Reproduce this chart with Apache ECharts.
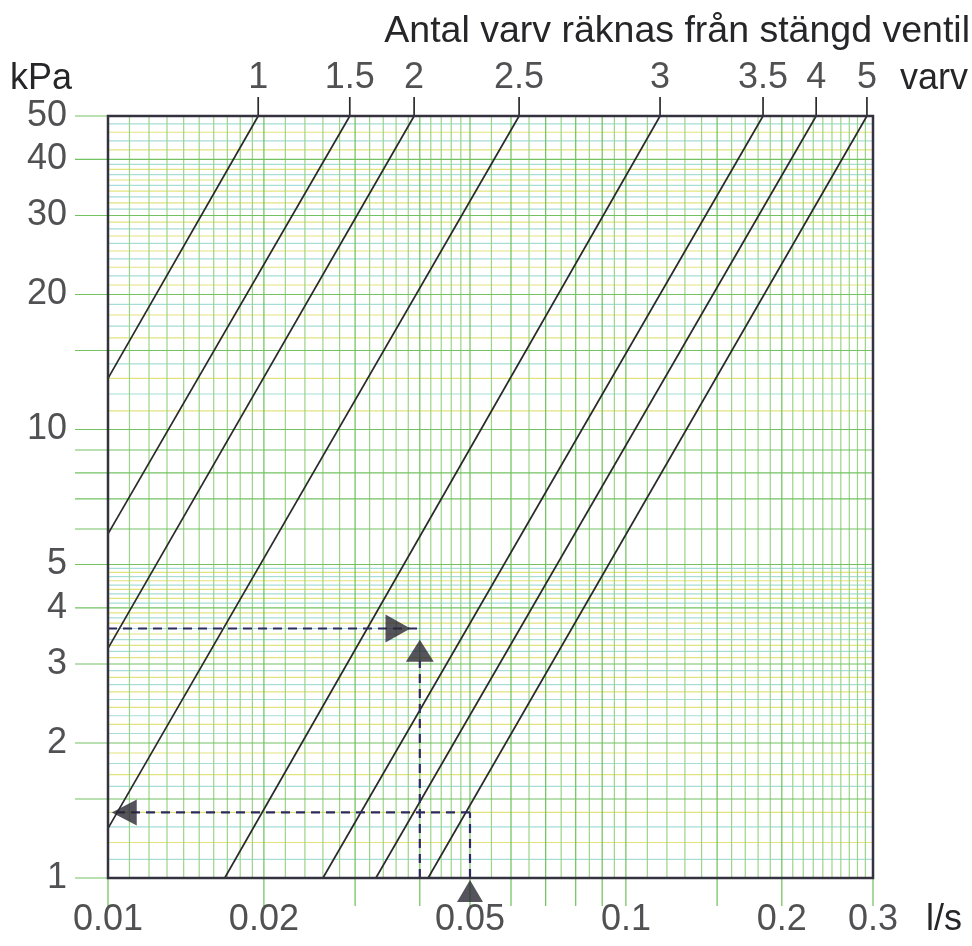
<!DOCTYPE html>
<html><head><meta charset="utf-8">
<script src="https://cdn.jsdelivr.net/npm/echarts@6/dist/echarts.min.js"></script>
<style>html,body{margin:0;padding:0;background:#fff}#c{width:972px;height:946px}</style>
</head><body><div id="c"></div>
<script>
// ---- data ----
const turnLabels = ['1','1.5','2','2.5','3','3.5','4','5'];
const flowAt50 = [0.0195,0.0293,0.0390,0.0622,0.1164,0.1840,0.2330,0.2920]; // l/s where each curve meets 50 kPa
const lowFlow  = [0.01,0.01,0.01,0.01,0.0168,0.0260,0.0329,0.0415];          // lower end of each curve
const lowP     = [13.0,5.85,3.25,1.29,1,1,1,1];

const xTickLabels = [0.01,0.02,0.05,0.1,0.2,0.3];
const yTickLabels = [1,2,3,4,5,10,20,30,40,50];

const xGridMajor = [0.01,0.02,0.03,0.04,0.05,0.06,0.07,0.08,0.09,0.1,0.15,0.2,0.3];
const xGridMinor = [0.011,0.012,0.013,0.014,0.015,0.016,0.017,0.018,0.019,
  0.022,0.024,0.026,0.028,0.032,0.034,0.036,0.038,0.042,0.044,0.046,0.048,
  0.055,0.065,0.075,0.085,0.095,
  0.11,0.12,0.13,0.14,0.16,0.17,0.18,0.19,
  0.21,0.22,0.23,0.24,0.25,0.26,0.27,0.28,0.29];
const yGridMajor = [1,1.5,2,3,4,5,6,7,8,9,10,15,20,30,40,50];
const yGridMinor = [1.1,1.2,1.3,1.4,1.6,1.7,1.8,1.9,
  2.1,2.2,2.3,2.4,2.5,2.6,2.7,2.8,2.9,
  3.1,3.2,3.3,3.4,3.5,3.6,3.7,3.8,3.9,
  4.1,4.2,4.3,4.4,4.5,4.6,4.7,4.8,4.9,
  11,12,13,14,16,17,18,19,
  21,22,23,24,25,26,27,28,29,
  31,32,33,34,35,36,37,38,39,
  42,44,46,48];

// worked examples (dashed reading lines)
const exA_horiz = [[0.01,3.6],[0.0405,3.6]];
const exA_vert  = [[0.04,1],[0.04,3.05]];
const exB_vert  = [[0.05,1],[0.05,1.4]];
const exB_horiz = [[0.05,1.4],[0.0102,1.4]];
const arrowRight = [[0.0363,3.6]];
const arrowUpA   = [[0.04,3.21]];
const arrowLeft  = [[0.01075,1.4]];
const arrowUpB   = [[0.05,0.936]];

const X_MIN = 0.01, X_MAX = 0.3, Y_MIN = 1, Y_MAX = 50;
const FONT = '"Liberation Sans", Arial, Helvetica, sans-serif';
const TXT = '#262628';
const FS = 36;

const chart = echarts.init(document.getElementById('c'));

function hLines(vals, colorFn, extLeft) {
  return {
    type: 'custom', coordinateSystem: 'cartesian2d', clip: false, silent: true, z: 1,
    data: vals.map(v => [X_MIN, v]),
    renderItem(params, api) {
      const v = api.value(1);
      const a = api.coord([X_MIN, v]), b = api.coord([X_MAX, v]);
      return { type: 'line', shape: { x1: a[0] - extLeft, y1: a[1], x2: b[0], y2: b[1] },
        style: { stroke: colorFn(params.dataIndex, v), lineWidth: 1.2 } };
    }
  };
}
function vLines(vals, color, extBottom) {
  return {
    type: 'custom', coordinateSystem: 'cartesian2d', clip: false, silent: true, z: 1,
    data: vals.map(v => [v, Y_MIN]),
    renderItem(params, api) {
      const v = api.value(0);
      const a = api.coord([v, Y_MIN]), b = api.coord([v, Y_MAX]);
      return { type: 'line', shape: { x1: a[0], y1: a[1] + extBottom, x2: b[0], y2: b[1] },
        style: { stroke: color, lineWidth: 1.2 } };
    }
  };
}
function dashed(data) {
  return { type: 'line', data, symbol: 'none', clip: false, silent: true, z: 5,
    lineStyle: { color: '#2d2b5e', width: 2.2, type: [9, 6] } };
}
function arrow(data, rot, size) {
  return { type: 'scatter', data, symbol: 'triangle', symbolSize: size, symbolRotate: rot,
    clip: false, silent: true, z: 6, itemStyle: { color: '#2a2832' } };
}

const series = [];
series.push(hLines(yGridMinor, (i) => (i % 2 ? '#e3e37e' : '#a6ddd8'), 0));
series.push(vLines(xGridMinor, '#9bd487', 0));
series.push(vLines(xGridMajor, '#6cc058', 28));
series.push(hLines(yGridMajor, () => '#72c262', 33));

turnLabels.forEach((t, i) => {
  series.push({ type: 'line', name: t, data: [[lowFlow[i], lowP[i]], [flowAt50[i], Y_MAX]],
    symbol: 'none', silent: true, z: 4, lineStyle: { color: '#2a2a2a', width: 1.7 } });
});
// short leader ticks above frame
series.push({
  type: 'custom', coordinateSystem: 'cartesian2d', clip: false, silent: true, z: 4,
  data: flowAt50.map(q => [q, Y_MAX]),
  renderItem(params, api) {
    const a = api.coord([api.value(0), Y_MAX]);
    return { type: 'line', shape: { x1: a[0], y1: a[1], x2: a[0], y2: a[1] - 19 },
      style: { stroke: '#2a2a2a', lineWidth: 1.7 } };
  }
});
// top turn labels
series.push({ type: 'scatter', symbolSize: 0, silent: true, clip: false,
  data: flowAt50.map((q, i) => ({ value: [q, Y_MAX], name: turnLabels[i] })),
  label: { show: true, position: 'top', distance: 20, formatter: '{b}',
    fontSize: FS, fontFamily: FONT, color: TXT } });
// y labels
series.push({ type: 'scatter', symbolSize: 0, silent: true, clip: false,
  data: yTickLabels.map(v => [X_MIN, v]),
  label: { show: true, position: 'left', distance: 41, formatter: p => String(p.value[1]),
    fontSize: FS, fontFamily: FONT, color: TXT } });
// x labels
series.push({ type: 'scatter', symbolSize: 0, silent: true, clip: false,
  data: xTickLabels.map(v => [v, Y_MIN]),
  label: { show: true, position: 'bottom', distance: 24, formatter: p => String(p.value[0]),
    fontSize: FS, fontFamily: FONT, color: TXT } });

series.push(dashed(exA_horiz), dashed(exA_vert), dashed(exB_vert), dashed(exB_horiz));
series.push(arrow(arrowRight, -90, [28, 25]));
series.push(arrow(arrowUpA, 0, [28, 22]));
series.push(arrow(arrowLeft, 90, [26, 25]));
series.push(arrow(arrowUpB, 0, [26, 22]));

// frame
series.push({
  type: 'custom', coordinateSystem: 'cartesian2d', clip: false, silent: true, z: 7,
  data: [[X_MIN, Y_MAX]],
  renderItem(params, api) {
    const a = api.coord([X_MIN, Y_MAX]), b = api.coord([X_MAX, Y_MIN]);
    return { type: 'rect', shape: { x: a[0], y: a[1], width: b[0] - a[0], height: b[1] - a[1] },
      style: { fill: 'none', stroke: '#35323f', lineWidth: 2.5 } };
  }
});

chart.setOption({
  animation: false,
  backgroundColor: '#ffffff',
  title: { text: 'Antal varv räknas från stängd ventil', right: -3, top: 8,
    textStyle: { fontSize: 37.5, fontWeight: 'normal', fontFamily: FONT, color: TXT } },
  grid: { left: 108, right: 99, top: 116, bottom: 68 },
  xAxis: { type: 'log', logBase: 10, min: X_MIN, max: X_MAX,
    axisLine: { show: false }, axisTick: { show: false }, axisLabel: { show: false }, splitLine: { show: false } },
  yAxis: { type: 'log', logBase: 10, min: Y_MIN, max: Y_MAX,
    axisLine: { show: false }, axisTick: { show: false }, axisLabel: { show: false }, splitLine: { show: false } },
  graphic: [
    { type: 'text', left: 10, top: 61, style: { text: 'kPa', font: FS + 'px ' + FONT, fill: TXT } },
    { type: 'text', left: 900, top: 61, style: { text: 'varv', font: FS + 'px ' + FONT, fill: TXT } },
    { type: 'text', left: 926, top: 902, style: { text: 'l/s', font: FS + 'px ' + FONT, fill: TXT } }
  ],
  series
});
</script></body></html>
